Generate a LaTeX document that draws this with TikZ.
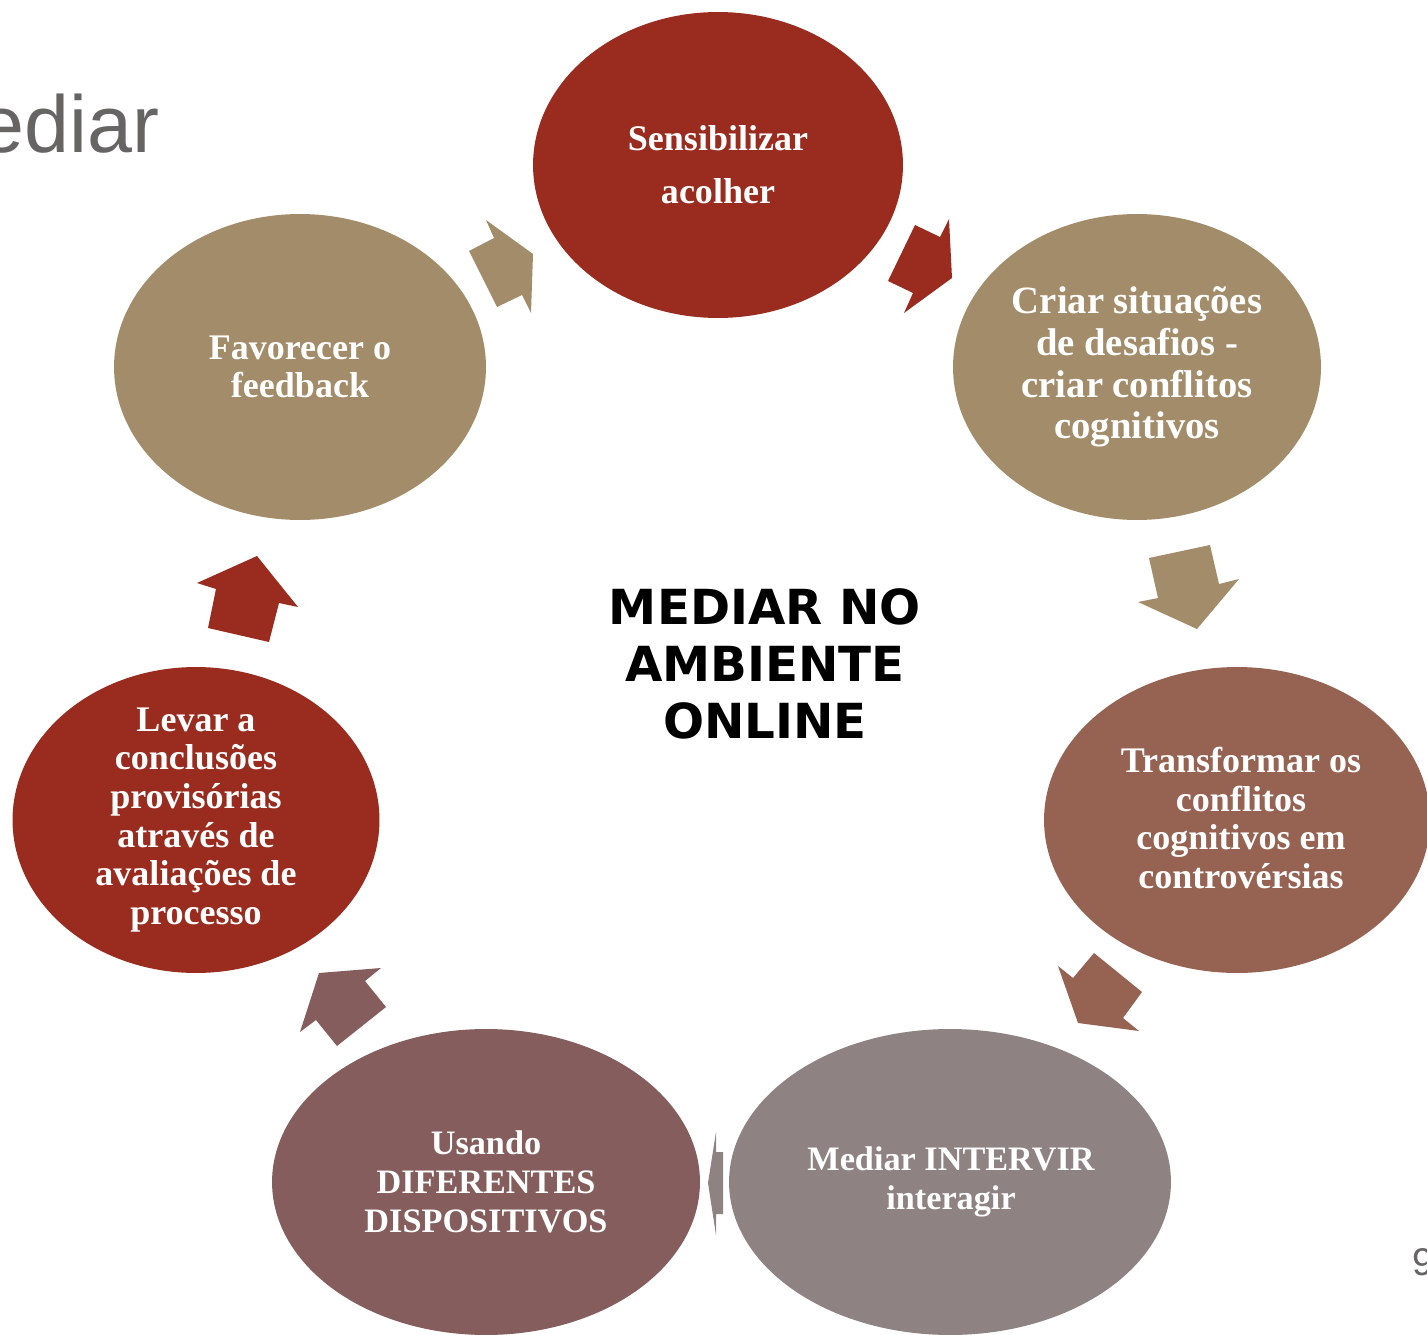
\documentclass[tikz,border=0pt]{standalone}
\usepackage{fontspec}
\setmainfont{Liberation Serif}
\newfontfamily\titlefont{DejaVu Sans}
\newfontfamily\slidefont{Liberation Sans}
\usetikzlibrary{shapes,positioning}
\definecolor{cRed}{RGB}{154,44,31}
\definecolor{cTan}{RGB}{163,140,105}
\definecolor{cBrown}{RGB}{150,99,82}
\definecolor{cGray}{RGB}{142,130,130}
\definecolor{cMauve}{RGB}{132,93,92}
\definecolor{cSlide}{RGB}{103,101,100}
\begin{document}
\begin{tikzpicture}[x=0.02cm,y=-0.02cm,
    bubble/.style={ellipse,inner sep=0pt,minimum height=6.12cm},
    txt/.style={text=white,align=center,inner sep=0pt,font=\bfseries\fontsize{20.5}{22}\selectfont}]
        \useasboundingbox (0,0) rectangle (1427,1335);

        % slide leftovers
        \node[font=\slidefont\fontsize{46}{50}\selectfont,text=cSlide,anchor=base east,inner sep=0pt] (slidetitle) at (160,153) {ediar};
        \node[font=\slidefont\fontsize{22}{24}\selectfont,text=cSlide,anchor=base west,inner sep=0pt] (pagenum) at (1412,1275) {9};

        % cycle
        \node[bubble,fill=cRed,minimum width=7.4cm]    (sens)  at (718,165)  {};
        \node[bubble,fill=cTan,minimum width=7.36cm]   (criar) at (1137,367) {};
        \node[bubble,fill=cBrown,minimum width=7.72cm] (trans) at (1237,820) {};
        \node[bubble,fill=cGray,minimum width=8.84cm]  (med)   at (950,1182) {};
        \node[bubble,fill=cMauve,minimum width=8.56cm] (usa)   at (486,1182) {};
        \node[bubble,fill=cRed,minimum width=7.34cm]   (levar) at (196,820)  {};
        \node[bubble,fill=cTan,minimum width=7.44cm]   (fav)   at (300,367)  {};

        \node[txt] (sens-txt) at (sens.center) {Sensibilizar\\[8pt] acolher};
        \node[txt,font=\bfseries\fontsize{22}{23.7}\selectfont] (criar-txt) at (criar.center) {Criar situações\\de desafios -\\criar conflitos\\cognitivos};
        \node[txt] (trans-txt) at (1241,818) {Transformar os\\conflitos\\cognitivos em\\controvérsias};
        \node[txt,font=\bfseries\fontsize{19.5}{22}\selectfont] (med-txt) at (951,1182) {Mediar INTERVIR\\interagir};
        \node[txt,font=\bfseries\fontsize{19.5}{22}\selectfont] (usa-txt) at (usa.center) {Usando\\DIFERENTES\\DISPOSITIVOS};
        \node[txt] (levar-txt) at (levar.center) {Levar a\\conclusões\\provisórias\\através de\\avaliações de\\processo};
        \node[txt] (fav-txt) at (fav.center) {Favorecer o\\feedback};

        \node[font=\titlefont\bfseries\fontsize{27.5}{32.3}\selectfont,align=center] (title) at (765,664) {MEDIAR NO\\AMBIENTE\\ONLINE};

        % block arrows
        \fill[cTan]   (486,220) -- (533,254) -- (531,313) -- (522,295) -- (497,307) -- (469,251) -- (494,238) -- cycle;
        \fill[cRed]   (915,225) -- (940,237) -- (949,219) -- (952,278) -- (904,313) -- (913,293) -- (888,281) -- cycle;
        \fill[cTan]   (1149,558) -- (1210,545) -- (1219,584) -- (1239,579) -- (1197,629) -- (1138,602) -- (1158,598) -- cycle;
        \fill[cBrown] (1094,953) -- (1142,992) -- (1123,1018) -- (1139,1031) -- (1078,1023) -- (1058,966) -- (1073,978) -- cycle;
        \fill[cGray]  (716,1132) -- (716,1152) -- (723,1152) -- (723,1214) -- (716,1214) -- (716,1235) -- (708,1183) -- cycle;
        \fill[cMauve] (319,973) -- (381,968) -- (365,981) -- (386,1007) -- (337,1046) -- (316,1020) -- (300,1032) -- cycle;
        \fill[cRed]   (257,556) -- (298,607) -- (279,603) -- (269,642) -- (208,628) -- (216,589) -- (197,583) -- cycle;
    \end{tikzpicture}
\end{document}
